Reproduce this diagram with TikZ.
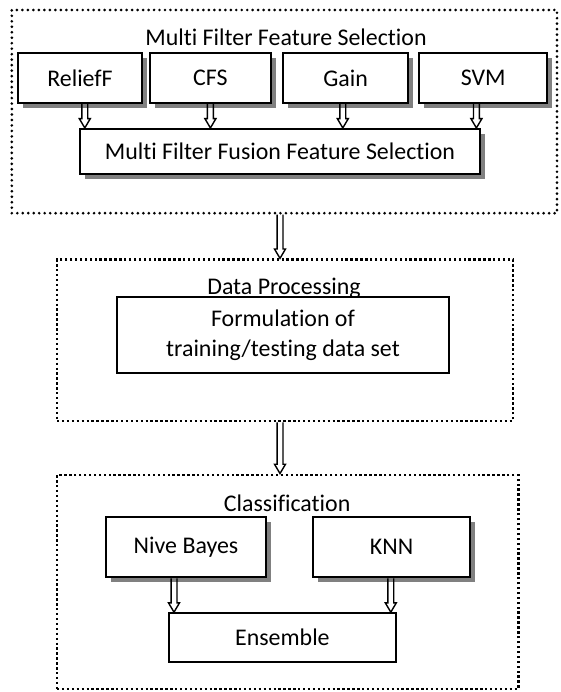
\documentclass[tikz,border=0pt]{standalone}
\usepackage{fontspec}
\setmainfont{Carlito}[Ligatures=NoCommon]
\usepackage{tikz}
\usetikzlibrary{calc,shadows}

\begin{document}
\begin{tikzpicture}[
        every node/.style={font=\fontsize{17}{21}\selectfont},
        stage/.style={rectangle, draw=black, line width=2.1pt, dash pattern=on 1.7pt off 1.8pt},
        outerstage/.style={rectangle, draw=black, line width=2.1pt, line cap=round, dash pattern=on 0pt off 3.9pt},
        block/.style={rectangle, draw=black, line width=1.5pt, fill=white, align=center, inner sep=0pt},
        shadowed/.style={block, drop shadow={shadow xshift=3.6pt, shadow yshift=-3.6pt, fill=black!50, opacity=1}},
        title/.style={inner sep=0pt},
        hollow/.style={line width=1pt, to path={let \p1=(\tikztostart), \p2=(\tikztotarget) in
            (\x1-2.1pt,\y1) -- (\x1-2.1pt,\y2+6.6pt) -- (\x1-3.9pt,\y2+6.6pt) -- (\x1,\y2)
            -- (\x1+3.9pt,\y2+6.6pt) -- (\x1+2.1pt,\y2+6.6pt) -- (\x1+2.1pt,\y1)}}
        ]

        \useasboundingbox (0,0) rectangle (14,-17.3);

        % Dotted stage frames
        \node[outerstage, minimum width=13.63cm, minimum height=5.08cm] (mfs) at (7.11,-2.79) {};
        \node[stage, minimum width=11.4cm, minimum height=4.03cm] (dp) at (7.125,-8.51) {};
        \node[stage, minimum width=11.53cm, minimum height=5.35cm] (cls) at (7.19,-14.55) {};

        % Multi filter stage
        \node[title] (mfstitle) at (7.15,-0.93) {Multi Filter Feature Selection};
        \node[shadowed, minimum width=3.08cm, minimum height=1.25cm] (relief) at (2.0,-1.95) {ReliefF};
        \node[shadowed, minimum width=3.03cm, minimum height=1.25cm] (cfs) at (5.26,-1.95) {CFS};
        \node[shadowed, minimum width=3.12cm, minimum height=1.25cm] (gain) at (8.64,-1.95) {Gain};
        \node[shadowed, minimum width=3.2cm, minimum height=1.25cm] (svm) at (12.08,-1.95) {SVM};
        \node[shadowed, minimum width=10.0cm, minimum height=1.13cm] (fusion) at (7.0,-3.79) {Multi Filter Fusion Feature Selection};

        % Data processing stage
        \node[title] (dptitle) at (7.1,-7.2) {Data Processing};
        \node[block, line width=1.2pt, minimum width=8.3cm, minimum height=1.9cm] (formul) at (7.075,-8.375) {Formulation of\\training/testing data set};

        % Classification stage
        \node[title] (clstitle) at (7.18,-12.58) {Classification};
        \node[shadowed, minimum width=4.0cm, minimum height=1.5cm] (nb) at (4.65,-13.68) {Nive Bayes};
        \node[shadowed, minimum width=3.93cm, minimum height=1.5cm] (knn) at (9.79,-13.68) {KNN};
        \node[block, line width=1.2pt, minimum width=5.68cm, minimum height=1.23cm] (ens) at (7.06,-15.94) {Ensemble};

        % Hollow arrows
        \draw[hollow] ($(relief.south)+(0.12,0)$) to (fusion.north);
        \draw[hollow] (cfs.south) to (fusion.north);
        \draw[hollow] ($(gain.south)+(-0.07,0)$) to (fusion.north);
        \draw[hollow] ($(svm.south)+(-0.17,0)$) to (fusion.north);
        \draw[hollow] (mfs.south -| fusion.south) to (dp.north);
        \draw[hollow] (dp.south -| fusion.south) to (cls.north);
        \draw[hollow] ($(nb.south)+(-0.3,0)$) to (ens.north);
        \draw[hollow] ($(knn.south)+(-0.02,0)$) to (ens.north);

    \end{tikzpicture}
\end{document}
